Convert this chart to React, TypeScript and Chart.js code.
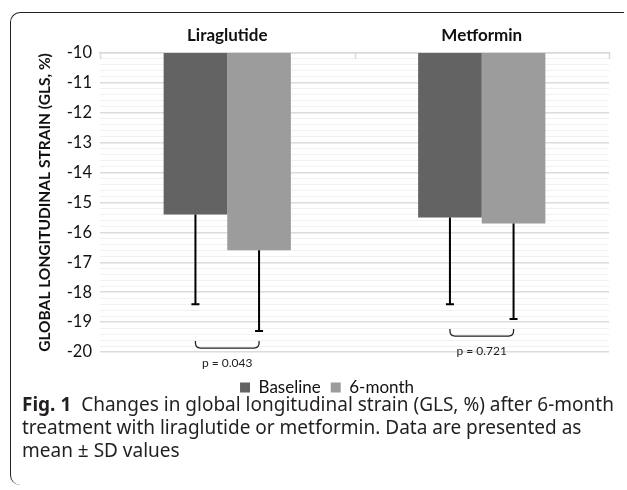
import React, { useEffect, useRef } from 'react';
import { Chart, registerables } from 'chart.js';

Chart.register(...registerables);

const categories = ['Liraglutide', 'Metformin'];
const seriesNames = ['Baseline', '6-month'];
const baselineMeans = [-15.4, -15.5];
const sixMonthMeans = [-16.6, -15.7];
const baselineSD = [3.0, 2.9];
const sixMonthSD = [2.7, 3.2];
const pLabels = ['p = 0.043', 'p = 0.721'];
const yMin = -20;
const yMax = -10;
const yStep = 0.2;

const seriesColors = ['#636363', '#9c9c9c'];
const FONT = 'Lato, "Noto Sans", sans-serif';

const isMajor = (v: number) => Math.abs(v - Math.round(v)) < 1e-6;

const overlayPlugin = {
  id: 'overlayPlugin',
  afterDatasetsDraw(chart: any) {
    const ctx = chart.ctx as CanvasRenderingContext2D;
    const xs = chart.scales.x;
    const ys = chart.scales.y;
    const means = [baselineMeans, sixMonthMeans];
    const sds = [baselineSD, sixMonthSD];
    const top = chart.chartArea.top;
    ctx.save();

    // inside tick marks at category boundaries
    ctx.strokeStyle = '#d9d9d9';
    ctx.lineWidth = 1.5;
    for (let i = 0; i <= categories.length; i++) {
      const px = Math.round(xs.getPixelForValue(i - 0.5)) + 0.5;
      ctx.beginPath();
      ctx.moveTo(px, top);
      ctx.lineTo(px, top + 6);
      ctx.stroke();
    }

    // error bars (downward only)
    ctx.strokeStyle = '#000';
    ctx.lineWidth = 2;
    const ends: number[][] = [[], []];
    for (let d = 0; d < means.length; d++) {
      const meta = chart.getDatasetMeta(d);
      for (let i = 0; i < categories.length; i++) {
        const bar = meta.data[i];
        const x = bar.x;
        const y0 = ys.getPixelForValue(means[d][i]);
        const y1 = ys.getPixelForValue(means[d][i] - sds[d][i]);
        ends[d][i] = y1;
        ctx.beginPath();
        ctx.moveTo(x, y0);
        ctx.lineTo(x, y1);
        ctx.moveTo(x - 4, y1);
        ctx.lineTo(x + 4, y1);
        ctx.stroke();
      }
    }

    // brackets + p labels
    ctx.strokeStyle = '#222';
    ctx.lineWidth = 1.3;
    ctx.fillStyle = '#222';
    ctx.font = `12px ${FONT}`;
    ctx.textAlign = 'center';
    ctx.textBaseline = 'middle';
    for (let i = 0; i < categories.length; i++) {
      const x1 = chart.getDatasetMeta(0).data[i].x;
      const x2 = chart.getDatasetMeta(1).data[i].x;
      const yt = Math.max(ends[0][i], ends[1][i]) + 10;
      const yb = yt + 7;
      const r = 5;
      ctx.beginPath();
      ctx.moveTo(x1, yt);
      ctx.lineTo(x1, yb - r);
      ctx.quadraticCurveTo(x1, yb, x1 + r, yb);
      ctx.lineTo(x2 - r, yb);
      ctx.quadraticCurveTo(x2, yb, x2, yb - r);
      ctx.lineTo(x2, yt);
      ctx.stroke();
      ctx.fillText(pLabels[i], (x1 + x2) / 2, yb + 15);
    }
    ctx.restore();
  },
};

export default function App() {
  const ref = useRef<HTMLCanvasElement | null>(null);

  useEffect(() => {
    if (!ref.current) return;
    const chart = new Chart(ref.current, {
      type: 'bar',
      data: {
        labels: categories,
        datasets: [
          { label: seriesNames[0], data: baselineMeans, backgroundColor: seriesColors[0], xAxisID: 'x', yAxisID: 'y' },
          { label: seriesNames[1], data: sixMonthMeans, backgroundColor: seriesColors[1], xAxisID: 'x', yAxisID: 'y' },
        ],
      },
      options: {
        responsive: false,
        animation: false,
        devicePixelRatio: 1,
        layout: { padding: { left: 45, right: 18, top: 0, bottom: 0 } },
        datasets: { bar: { categoryPercentage: 0.5, barPercentage: 1 } },
        scales: {
          x: {
            position: 'top',
            grid: { display: false, drawTicks: false },
            border: { display: true, color: '#d9d9d9', width: 1.5 },
            ticks: { padding: 7, color: '#111', font: { family: FONT, size: 17, weight: 'bold' } },
            afterFit: (s: any) => { s.height = 53; },
          },
          x2: {
            position: 'bottom',
            display: true,
            grid: { display: false, drawTicks: false },
            border: { display: false },
            ticks: { display: false },
            afterFit: (s: any) => { s.height = 17; },
          },
          y: {
            min: yMin,
            max: yMax,
            grid: {
              drawTicks: false,
              color: (c: any) => (isMajor(c.tick.value) ? '#dcdcdc' : '#f1f1f1'),
              lineWidth: (c: any) => (isMajor(c.tick.value) ? 1.5 : 1),
            },
            border: { display: false },
            ticks: {
              stepSize: yStep,
              autoSkip: false,
              padding: 8,
              color: '#111',
              font: { family: FONT, size: 16.5 },
              callback: (v: any) => (isMajor(Number(v)) ? String(Math.round(Number(v))) : ''),
            },
            title: {
              display: true,
              text: 'GLOBAL LONGITUDINAL STRAIN (GLS, %)',
              color: '#111',
              font: { family: FONT, size: 15.5, weight: 'bold' },
              padding: { top: -9.3, bottom: 0 },
            },
            afterFit: (s: any) => { s.width = 55; },
          },
        },
        plugins: {
          legend: {
            position: 'bottom',
            labels: {
              boxWidth: 10,
              boxHeight: 10,
              padding: 10,
              color: '#111',
              font: { family: FONT, size: 17 },
            },
          },
          tooltip: { enabled: false },
        },
      },
      plugins: [overlayPlugin],
    } as any);
    return () => chart.destroy();
  }, []);

  return (
    <div style={{ position: 'absolute', left: 0, top: 0, width: 627, height: 490, background: '#fff', overflow: 'hidden' }}>
      <div
        style={{
          position: 'absolute',
          left: 10,
          top: 12,
          width: 614,
          height: 473,
          borderTop: '1.3px solid #222',
          borderLeft: '1.3px solid #222',
          borderTopLeftRadius: 10,
          borderBottomLeftRadius: 10,
          boxSizing: 'border-box',
        }}
      />
      <canvas ref={ref} width={627} height={406} style={{ position: 'absolute', left: 0, top: 0, display: 'block' }} />
      <div
        style={{
          position: 'absolute',
          left: 22,
          top: 393,
          fontFamily: '"Noto Sans", sans-serif',
          fontSize: 19,
          lineHeight: '23px',
          color: '#231f20',
          whiteSpace: 'nowrap',
        }}
      >
        <b>Fig. 1</b>&nbsp; Changes in global longitudinal strain (GLS, %) after 6-month
        <br />
        treatment with liraglutide or metformin. Data are presented as
        <br />
        mean ± SD values
      </div>
    </div>
  );
}
